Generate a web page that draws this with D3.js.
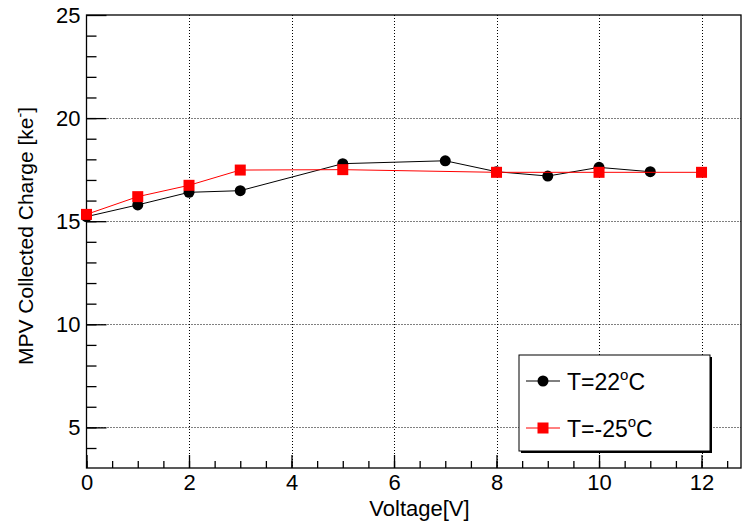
<!DOCTYPE html>
<html>
<head>
<meta charset="utf-8">
<script src="https://cdn.jsdelivr.net/npm/d3@7"></script>
<style>
  body { margin: 0; background: #fff; }
  svg text { font-family: "Liberation Sans", Arial, Helvetica, sans-serif; }
</style>
</head>
<body>
<div id="chart"></div>
<script>
// data
var voltage22 = [0, 1, 2, 3, 5, 7, 8, 9, 10, 11];
var charge22 = [15.22, 15.79, 16.4, 16.48, 17.79, 17.93, 17.4, 17.19, 17.61, 17.4];
var voltageM25 = [0, 1, 2, 3, 5, 8, 10, 12];
var chargeM25 = [15.33, 16.19, 16.74, 17.48, 17.5, 17.37, 17.37, 17.37];
var xMajor = [0, 2, 4, 6, 8, 10, 12];
var yMajor = [5, 10, 15, 20, 25];
var legendLabels = ["T=22", "T=-25"];

var width = 742,
  height = 524;
var frame = { left: 86.5, right: 741, top: 15, bottom: 468 };

var svg = d3.select("#chart").append("svg")
  .attr("width", width)
  .attr("height", height);

var x = d3.scaleLinear().domain([0, 12.77]).range([frame.left, frame.right]);
var y = d3.scaleLinear().domain([3.03, 25]).range([frame.bottom, frame.top]);

// grid (dotted)
var grid = svg.append("g").attr("class", "grid");
grid.selectAll(".gx").data(xMajor.filter(function (d) { return d > 0; }))
  .enter().append("line")
  .attr("x1", function (d) { return Math.round(x(d)) + 0.5; })
  .attr("x2", function (d) { return Math.round(x(d)) + 0.5; })
  .attr("y1", frame.top).attr("y2", frame.bottom)
  .attr("stroke", "#000").attr("stroke-dasharray", "1,2");
grid.selectAll(".gy").data(yMajor.filter(function (d) { return d < 25; }))
  .enter().append("line")
  .attr("y1", function (d) { return Math.round(y(d)) + 0.5; })
  .attr("y2", function (d) { return Math.round(y(d)) + 0.5; })
  .attr("x1", frame.left).attr("x2", frame.right)
  .attr("stroke", "#000").attr("stroke-dasharray", "1,2");

// axes, ROOT style ticks pointing inward
var xMinor = d3.range(0, 12.77, 0.5);
var yMinor = d3.range(4, 25, 1);

svg.append("g")
  .attr("transform", "translate(0," + frame.bottom + ")")
  .call(d3.axisBottom(x).tickValues(xMinor).tickSize(-7).tickFormat("").tickSizeOuter(0))
  .call(function (g) { g.select(".domain").remove(); });

var xAxisG = svg.append("g")
  .attr("transform", "translate(0," + frame.bottom + ")")
  .call(d3.axisBottom(x).tickValues(xMajor).tickSize(-13).tickPadding(6).tickSizeOuter(0));
xAxisG.select(".domain").remove();
xAxisG.selectAll("text").attr("font-size", 22).attr("fill", "#000");

svg.append("g")
  .attr("transform", "translate(" + frame.left + ",0)")
  .call(d3.axisLeft(y).tickValues(yMinor).tickSize(-10).tickFormat("").tickSizeOuter(0))
  .call(function (g) { g.select(".domain").remove(); });

var yAxisG = svg.append("g")
  .attr("transform", "translate(" + frame.left + ",0)")
  .call(d3.axisLeft(y).tickValues(yMajor).tickSize(-20).tickPadding(6).tickSizeOuter(0));
yAxisG.select(".domain").remove();
yAxisG.selectAll("text").attr("font-size", 22).attr("fill", "#000");

svg.selectAll(".tick line").attr("stroke", "#000").attr("stroke-width", 1.3);

// frame
svg.append("rect")
  .attr("x", frame.left).attr("y", frame.top)
  .attr("width", frame.right - frame.left).attr("height", frame.bottom - frame.top)
  .attr("fill", "none").attr("stroke", "#000").attr("stroke-width", 1.3);

// axis titles
svg.append("text")
  .attr("x", 419.5).attr("y", 516)
  .attr("text-anchor", "middle").attr("font-size", 22)
  .text("Voltage[V]");

var yTitle = svg.append("text")
  .attr("transform", "translate(33," + 236 + ") rotate(-90)")
  .attr("text-anchor", "middle").attr("font-size", 21)
  .text("MPV Collected Charge [ke");
yTitle.append("tspan").attr("dy", -8).attr("font-size", 14).text("-");
yTitle.append("tspan").attr("dy", 8).text("]");

// series
var line = d3.line()
  .x(function (d) { return x(d[0]); })
  .y(function (d) { return y(d[1]); });

var blackData = d3.zip(voltage22, charge22);
var redData = d3.zip(voltageM25, chargeM25);

svg.append("path").datum(blackData)
  .attr("d", line).attr("fill", "none").attr("stroke", "#000").attr("stroke-width", 1);
svg.selectAll(".dot").data(blackData).enter().append("circle")
  .attr("cx", function (d) { return x(d[0]); })
  .attr("cy", function (d) { return y(d[1]); })
  .attr("r", 5.5).attr("fill", "#000");

svg.append("path").datum(redData)
  .attr("d", line).attr("fill", "none").attr("stroke", "#ff0000").attr("stroke-width", 1);
svg.selectAll(".sq").data(redData).enter().append("rect")
  .attr("x", function (d) { return x(d[0]) - 5.5; })
  .attr("y", function (d) { return y(d[1]) - 5.5; })
  .attr("width", 11).attr("height", 11).attr("fill", "#ff0000");

// legend
var lg = svg.append("g");
lg.append("rect").attr("x", 521).attr("y", 357).attr("width", 191).attr("height", 96).attr("fill", "#000");
lg.append("rect").attr("x", 519).attr("y", 355).attr("width", 191).attr("height", 96)
  .attr("fill", "#fff").attr("stroke", "#000").attr("stroke-width", 1);

var colors = ["#000", "#ff0000"];
legendLabels.forEach(function (lab, i) {
  var cy = 381 + i * 47;
  lg.append("line").attr("x1", 526).attr("x2", 560).attr("y1", cy).attr("y2", cy)
    .attr("stroke", colors[i]).attr("stroke-width", 1);
  if (i === 0) {
    lg.append("circle").attr("cx", 543).attr("cy", cy).attr("r", 5.5).attr("fill", colors[i]);
  } else {
    lg.append("rect").attr("x", 537.5).attr("y", cy - 5.5).attr("width", 11).attr("height", 11).attr("fill", colors[i]);
  }
  var t = lg.append("text").attr("x", 567).attr("y", cy + 8.5).attr("font-size", 23).text(lab);
  t.append("tspan").attr("dy", -10).attr("font-size", 15).text("o");
  t.append("tspan").attr("dy", 10).text("C");
});
</script>
</body>
</html>
